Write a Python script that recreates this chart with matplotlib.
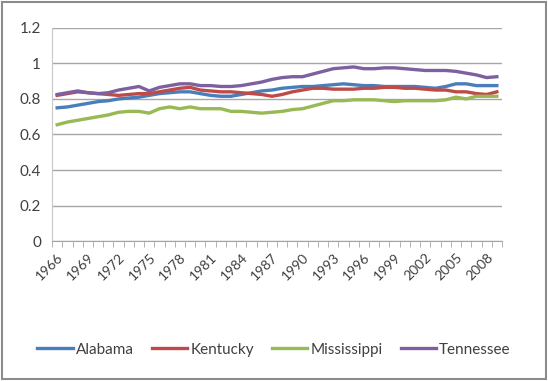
import matplotlib.pyplot as plt
from matplotlib.patches import Rectangle

years = list(range(1966, 2010))

alabama = [0.75, 0.755, 0.765, 0.775, 0.785, 0.79, 0.80, 0.805, 0.81, 0.82, 0.83,
           0.835, 0.84, 0.84, 0.83, 0.82, 0.815, 0.815, 0.825, 0.835, 0.845, 0.85,
           0.86, 0.865, 0.87, 0.87, 0.875, 0.88, 0.885, 0.88, 0.875, 0.875, 0.87,
           0.87, 0.87, 0.87, 0.865, 0.86, 0.87, 0.885, 0.885, 0.875, 0.875, 0.875]
kentucky = [0.82, 0.83, 0.84, 0.835, 0.83, 0.825, 0.82, 0.825, 0.83, 0.83, 0.84,
            0.85, 0.86, 0.865, 0.85, 0.845, 0.84, 0.84, 0.835, 0.83, 0.825, 0.815,
            0.825, 0.84, 0.85, 0.86, 0.86, 0.855, 0.855, 0.855, 0.86, 0.86, 0.865,
            0.865, 0.86, 0.86, 0.855, 0.85, 0.85, 0.84, 0.84, 0.83, 0.825, 0.84]
mississippi = [0.655, 0.67, 0.68, 0.69, 0.70, 0.71, 0.725, 0.73, 0.73, 0.72, 0.745,
               0.755, 0.745, 0.755, 0.745, 0.745, 0.745, 0.73, 0.73, 0.725, 0.72,
               0.725, 0.73, 0.74, 0.745, 0.76, 0.775, 0.79, 0.79, 0.795, 0.795,
               0.795, 0.79, 0.785, 0.79, 0.79, 0.79, 0.79, 0.795, 0.81, 0.80,
               0.815, 0.815, 0.815]
tennessee = [0.825, 0.835, 0.845, 0.835, 0.83, 0.835, 0.85, 0.86, 0.87, 0.845, 0.865,
             0.875, 0.885, 0.885, 0.875, 0.875, 0.87, 0.87, 0.875, 0.885, 0.895,
             0.91, 0.92, 0.925, 0.925, 0.94, 0.955, 0.97, 0.975, 0.98, 0.97, 0.97,
             0.975, 0.975, 0.97, 0.965, 0.96, 0.96, 0.96, 0.955, 0.945, 0.935,
             0.92, 0.925]

names = ["Alabama", "Kentucky", "Mississippi", "Tennessee"]
colors = ["#4A7EBB", "#BE4B48", "#98B954", "#7D60A0"]

plt.rcParams['font.family'] = ['Lato', 'DejaVu Sans']

fig = plt.figure(figsize=(5.48, 3.81), dpi=100)
ax = fig.add_axes([0.095, 0.367, 0.821, 0.56])

for vals, name, col in zip([alabama, kentucky, mississippi, tennessee], names, colors):
    ax.plot(years, vals, color=col, lw=2.4, label=name)

ax.set_xlim(years[0] - 0.5, years[-1] + 0.5)
ax.set_ylim(0, 1.2)
ax.set_yticks([0, 0.2, 0.4, 0.6, 0.8, 1.0, 1.2])
ax.set_yticklabels(["0", "0.2", "0.4", "0.6", "0.8", "1", "1.2"], fontsize=11, color="#404040")
ax.yaxis.grid(True, color="#A6A6A6", lw=1)
ax.set_axisbelow(True)

lab_years = years[::3]
ax.set_xticks(lab_years)
ax.set_xticklabels([str(y) for y in lab_years], rotation=45, ha="right",
                   rotation_mode="anchor", fontsize=10, color="#404040")
ax.set_xticks([y - 0.5 for y in years] + [years[-1] + 0.5], minor=True)
ax.tick_params(axis="x", which="major", length=0, pad=7)
ax.tick_params(axis="x", which="minor", length=4, color="#A6A6A6")
ax.tick_params(axis="y", length=0, pad=8)

for s in ["top", "right"]:
    ax.spines[s].set_visible(False)
ax.spines["left"].set_color("#C8C8C8")
ax.spines["bottom"].set_color("#A6A6A6")

fig.legend(loc="center", bbox_to_anchor=(0.5, 0.082), ncol=4, frameon=False,
           fontsize=11, handlelength=2.3, handletextpad=0.2, columnspacing=1.2,
           labelcolor="#404040")

fig.patches.append(Rectangle((0.004, 0.006), 0.992, 0.988, transform=fig.transFigure,
                             fill=False, edgecolor="#8C8C8C", lw=1.5))

fig.savefig("out.png", dpi=100)
